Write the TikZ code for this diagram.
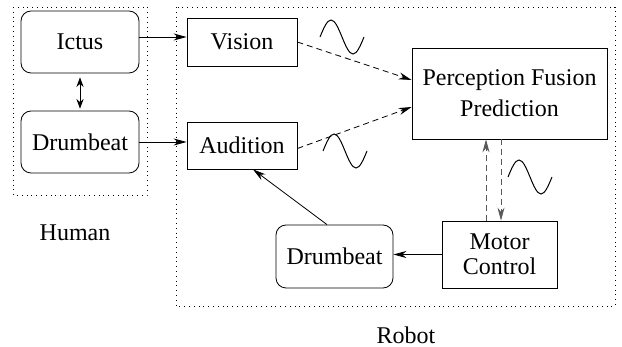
\documentclass[tikz,border=0pt]{standalone}
\usepackage{fontspec}
\setmainfont{Liberation Serif}
\usetikzlibrary{arrows.meta,calc,positioning}
\tikzset{
    -{Stealth[length=6.5pt,width=3.5pt]},auto,line width=0.5pt,
    x=0.5pt,y=-0.5pt,
    module/.style ={rectangle, draw, align=center, inner sep=0pt,
        font=\fontsize{12}{14.5}\selectfont},
    agent/.style ={module, rounded corners=5pt},
    group/.style ={draw, dotted, line width=0.4pt, -},
    wave/.style ={-, line width=0.5pt},
    sig/.style ={dashed, dash pattern=on 3pt off 2pt}
}
\begin{document}
\begin{tikzpicture}
        \useasboundingbox (0,0) rectangle (622,347);
        % human side
        \draw[group] (13,7) rectangle (147,195);
        \node[agent, minimum width=59pt, minimum height=31pt] (ictus) at (80,42) {Ictus};
        \node[agent, minimum width=59pt, minimum height=31pt] (hdrum) at (80,142) {Drumbeat};
        \node[font=\fontsize{12}{14.5}\selectfont] (human) at (75,233) {Human};

        % robot side
        \draw[group] (176,7) rectangle (615,306);
        \node[module, minimum width=55pt, minimum height=24pt] (vision) at (242,42) {Vision};
        \node[module, minimum width=55pt, minimum height=23.5pt] (audition) at (242,145.5) {Audition};
        \node[module, minimum width=97.5pt, minimum height=45.5pt,
              font=\fontsize{12}{15.5}\selectfont] (fusion) at (509.5,93.5) {Perception Fusion\\Prediction};
        \node[module, minimum width=57.5pt, minimum height=33.5pt,
              font=\fontsize{12}{12.7}\selectfont] (motor) at (499.5,254.5) {Motor\\Control};
        \node[agent, minimum width=58.5pt, minimum height=31.5pt] (rdrum) at (334.5,256.5) {Drumbeat};
        \node[font=\fontsize{12}{14.5}\selectfont] (robot) at (406,335) {Robot};

        \draw ([yshift=2.5pt]ictus.east) -- ([yshift=2.5pt]vision.west);
        \draw (hdrum.east) -- (hdrum.east -| audition.west);
        \draw[Stealth-Stealth] ([yshift=-2pt]ictus.south) -- ([yshift=1pt]hdrum.north);
        \draw[sig] (vision.east) -- ([yshift=6.75pt]fusion.west);
        \draw[sig] ([yshift=-1.5pt]audition.east) -- ([yshift=-6.75pt]fusion.west);
        \draw[sig, gray!70!black] ([xshift=-6.75pt]motor.north) -- ([xshift=-6.75pt]motor.north |- fusion.south);
        \draw[sig, gray!70!black] ([xshift=0.75pt]motor.north |- fusion.south) -- ([xshift=0.75pt]motor.north);
        \draw (motor.west) -- (motor.west -| rdrum.east);
        \draw ([xshift=-3.75pt]rdrum.north) -- ([xshift=5.5pt]audition.south);

        % signal waves
        \draw[wave] (320,37) sin (331,20) cos (342,37) sin (353,54) cos (364,37);
        \draw[wave] (323,151) sin (334,134) cos (345,151) sin (356,168) cos (367,151);
        \draw[wave] (508,177) sin (519,160) cos (530,177) sin (541,194) cos (552,177);
    \end{tikzpicture}
\end{document}
